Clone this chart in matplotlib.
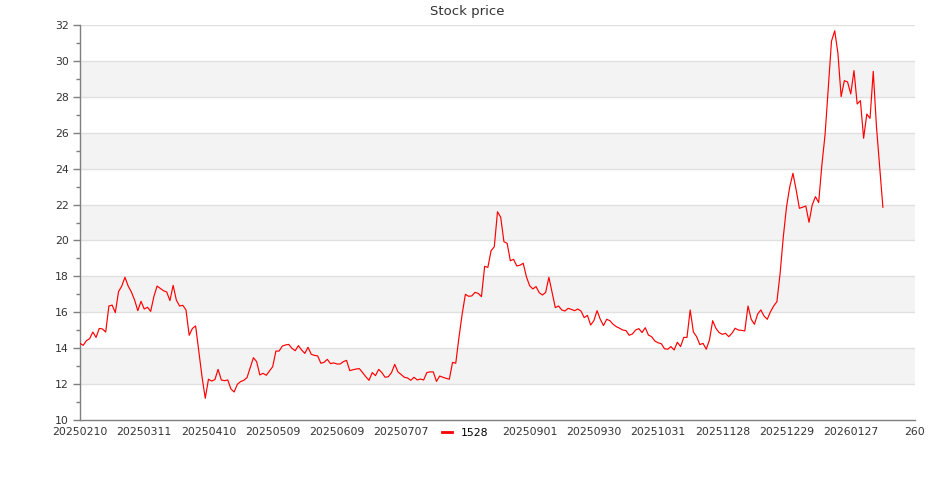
import numpy as np
import matplotlib
matplotlib.use("Agg")
import matplotlib.pyplot as plt
from matplotlib.ticker import MultipleLocator

# ---------- Data ----------
ticker = "1528"

prices = [
    14.27, 14.16, 14.42, 14.53, 14.90, 14.60, 15.10, 15.07, 14.90, 16.35,
    16.40, 15.98, 17.15, 17.46, 17.95, 17.46, 17.13, 16.68, 16.09, 16.61,
    16.18, 16.28, 16.05, 16.87, 17.46, 17.33, 17.20, 17.13, 16.65, 17.50,
    16.68, 16.35, 16.39, 16.13, 14.72, 15.10, 15.24, 13.80, 12.40, 11.21,
    12.27, 12.17, 12.25, 12.82, 12.23, 12.19, 12.23, 11.73, 11.56, 11.99,
    12.14, 12.21, 12.36, 12.92, 13.47, 13.25, 12.51, 12.60, 12.49, 12.73,
    12.97, 13.84, 13.84, 14.12, 14.18, 14.21, 13.99, 13.86, 14.14, 13.90,
    13.71, 14.05, 13.66, 13.60, 13.57, 13.16, 13.21, 13.38, 13.14, 13.18,
    13.12, 13.12, 13.25, 13.32, 12.75, 12.80, 12.84, 12.86, 12.64, 12.41,
    12.21, 12.64, 12.47, 12.82, 12.64, 12.38, 12.41, 12.64, 13.10, 12.68,
    12.53, 12.38, 12.34, 12.21, 12.38, 12.23, 12.28, 12.23, 12.64, 12.68,
    12.68, 12.15, 12.45, 12.38, 12.32, 12.27, 13.21, 13.16, 14.60, 15.90,
    17.00, 16.89, 16.91, 17.11, 17.05, 16.87, 18.56, 18.50, 19.43, 19.65,
    21.60, 21.29, 19.93, 19.84, 18.87, 18.95, 18.58, 18.62, 18.73, 17.98,
    17.48, 17.30, 17.43, 17.09, 16.96, 17.11, 17.95, 17.10, 16.26, 16.35,
    16.13, 16.07, 16.22, 16.16, 16.09, 16.18, 16.07, 15.70, 15.83, 15.29,
    15.53, 16.09, 15.61, 15.26, 15.61, 15.53, 15.33, 15.20, 15.11, 15.01,
    14.98, 14.72, 14.79, 15.01, 15.09, 14.87, 15.14, 14.73, 14.64, 14.40,
    14.30, 14.25, 13.97, 13.94, 14.09, 13.90, 14.33, 14.09, 14.60, 14.60,
    16.13, 14.90, 14.64, 14.20, 14.27, 13.94, 14.46, 15.53, 15.11, 14.87,
    14.77, 14.83, 14.64, 14.83, 15.11, 15.01, 14.99, 14.96, 16.35, 15.61,
    15.33, 15.90, 16.13, 15.79, 15.61, 16.03, 16.35, 16.59, 18.17, 20.21,
    21.88, 22.99, 23.74, 22.81, 21.79, 21.85, 21.92, 21.01, 21.98, 22.44,
    22.11, 24.20, 25.90, 28.50, 31.10, 31.68, 30.42, 28.01, 28.90, 28.83,
    28.16, 29.46, 27.60, 27.79, 25.69, 27.04, 26.80, 29.42, 26.34, 24.11,
    21.85,
]

# category axis labels (one every 20 trading days); axis holds 261 slots
tick_labels = [
    "20250210", "20250311", "20250410", "20250509", "20250609", "20250707",
    "20250804", "20250901", "20250930", "20251031", "20251128", "20251229",
    "20260127", "260",
]
n_slots = 261

# ---------- Plot ----------
fig = plt.figure(figsize=(9.35, 5.0), dpi=100)
ax = fig.add_axes([80 / 935, 80 / 500, 835 / 935, 395 / 500])

ymin, ymax = 10, 32
# alternating split areas
for i, lo in enumerate(range(ymin, ymax, 2)):
    if i % 2 == 1:
        ax.axhspan(lo, lo + 2, color="#f3f3f3", zorder=0, lw=0)
for y in range(ymin + 2, ymax + 1, 2):
    ax.axhline(y, color="#e0e0e0", lw=1, zorder=1)

x = np.arange(len(prices))
ax.plot(x, prices, color="#ff0000", lw=0.85, zorder=3, label=ticker)

ax.set_xlim(0, n_slots - 1)
ax.set_ylim(ymin, ymax)

# the label sitting under the legend is hidden in the original
shown = [("" if k == 6 else t) for k, t in enumerate(tick_labels)]
ax.set_xticks(range(0, n_slots, 20))
ax.set_xticklabels(shown)
ax.yaxis.set_major_locator(MultipleLocator(2))
ax.yaxis.set_minor_locator(MultipleLocator(1))

for s in ["top", "right"]:
    ax.spines[s].set_visible(False)
for s in ["left", "bottom"]:
    ax.spines[s].set_color("#7f7f7f")
    ax.spines[s].set_linewidth(1)

ax.tick_params(axis="x", length=0, pad=5, labelsize=7.8, labelcolor="#333333")
ax.tick_params(axis="y", which="major", length=5, width=1, color="#7f7f7f",
               pad=3, labelsize=7.8, labelcolor="#333333")
ax.tick_params(axis="y", which="minor", length=3, width=1, color="#7f7f7f")

fig.text(467 / 935, 1 - 12 / 500, "Stock price", ha="center", va="center",
         fontsize=9.5, color="#333333")

leg = fig.legend(loc="center", bbox_to_anchor=(465 / 935, 1 - 433 / 500),
                 frameon=True, fontsize=7.8, handlelength=1.0,
                 handletextpad=0.8, borderpad=0.3, borderaxespad=0)
leg.get_frame().set_facecolor("white")
leg.get_frame().set_edgecolor("white")
leg.get_frame().set_alpha(1)
leg.get_lines()[0].set_linewidth(2)
leg.set_zorder(10)

fig.savefig("out.png", dpi=100)
